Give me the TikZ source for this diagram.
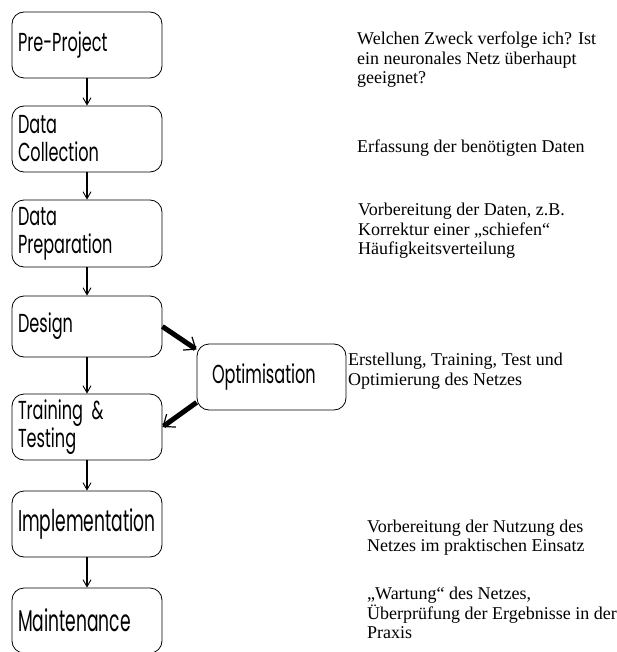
\documentclass[tikz,border=0pt]{standalone}
\usepackage{fontspec}
\setmainfont{Liberation Serif}
\newfontfamily\boxfont[FakeStretch=0.62]{Poppins}
\newfontfamily\bigboxfont[FakeStretch=0.57]{Poppins}
\usetikzlibrary{arrows.meta}
\tikzset{phase/.style={draw, line width=0.8pt, rounded corners=12pt, minimum width=150pt, minimum height=66pt,
    text width=138pt, align=left, inner xsep=6pt, inner ysep=2pt, font=\boxfont\fontsize{26}{28}\selectfont}}
\tikzset{bigphase/.style={phase, font=\bigboxfont\fontsize{30}{32}\selectfont}}
\tikzset{flow/.style={line width=1.2pt, -{Straight Barb[length=7pt,width=8pt,line width=0.9pt]}}}
\tikzset{loop/.style={line width=5pt, -{Straight Barb[length=10pt,width=16pt,line width=1.2pt]}}}
\tikzset{note/.style={anchor=west, align=left, inner sep=0pt, font=\fontsize{18}{19.5}\selectfont}}

\begin{document}
\begin{tikzpicture}[x=1pt, y=-1pt]
  \useasboundingbox (0,0) rectangle (616,652);

  % Phasen
  \node[phase] (pre) at (87,45) {Pre-Project};
  \node[phase] (coll) at (87,139) {Data\\Collection};
  \node[phase, minimum height=67pt] (dprep) at (87,233.5) {Data\\Preparation};
  \node[phase, minimum height=61pt] (design) at (87,326.5) {Design};
  \node[phase] (train) at (87,427) {Training \&\\Testing};
  \node[bigphase] (impl) at (87,524) {Implementation};
  \node[bigphase, minimum height=65pt] (maint) at (87,620.5) {Maintenance};
  \node[phase, minimum width=149pt, text width=119pt, inner xsep=15pt] (opt) at (271.5,377) {Optimisation};

  % Pfeile
  \draw[flow] (pre) -- (coll);
  \draw[flow] (coll) -- (dprep);
  \draw[flow] (dprep) -- (design);
  \draw[flow] (design) -- (train);
  \draw[flow] (train) -- (impl);
  \draw[flow] (impl) -- (maint);
  \draw[loop] (design.east) -- ([yshift=-6pt]opt.north west);
  \draw[loop] ([yshift=8pt]opt.south west) -- (train.east);

  % Beschreibungen
  \node[note] (n1) at (357,60) {Welchen Zweck verfolge ich? Ist\\ein neuronales Netz überhaupt\\geeignet?};
  \node[note] (n2) at (357,148) {Erfassung der benötigten Daten};
  \node[note] (n3) at (358,231) {Vorbereitung der Daten, z.B.\\Korrektur einer „schiefen“\\Häufigkeitsverteilung};
  \node[note] (n4) at (348,371) {Erstellung, Training, Test und\\Optimierung des Netzes};
  \node[note] (n5) at (367,537.5) {Vorbereitung der Nutzung des\\Netzes im praktischen Einsatz};
  \node[note] (n6) at (367,613) {„Wartung“ des Netzes,\\Überprüfung der Ergebnisse in der\\Praxis};
\end{tikzpicture}
\end{document}
